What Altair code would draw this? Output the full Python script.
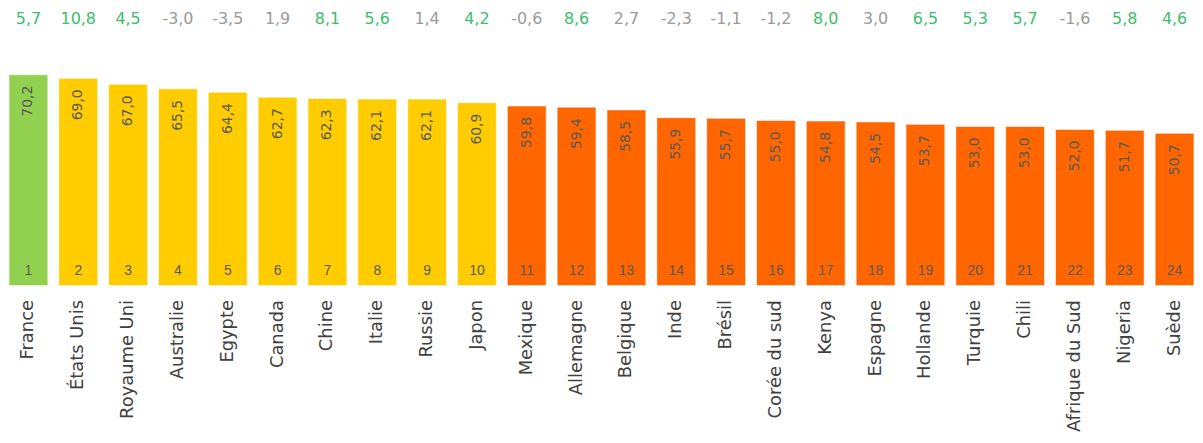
import altair as alt
import pandas as pd

countries = ["France", "États Unis", "Royaume Uni", "Australie", "Egypte", "Canada",
             "Chine", "Italie", "Russie", "Japon", "Mexique", "Allemagne", "Belgique",
             "Inde", "Brésil", "Corée du sud", "Kenya", "Espagne", "Hollande", "Turquie",
             "Chili", "Afrique du Sud", "Nigeria", "Suède"]
scores = [70.2, 69.0, 67.0, 65.5, 64.4, 62.7, 62.3, 62.1, 62.1, 60.9, 59.8, 59.4,
          58.5, 55.9, 55.7, 55.0, 54.8, 54.5, 53.7, 53.0, 53.0, 52.0, 51.7, 50.7]
changes = [5.7, 10.8, 4.5, -3.0, -3.5, 1.9, 8.1, 5.6, 1.4, 4.2, -0.6, 8.6, 2.7,
           -2.3, -1.1, -1.2, 8.0, 3.0, 6.5, 5.3, 5.7, -1.6, 5.8, 4.6]
ranks = list(range(1, 25))

df = pd.DataFrame({"country": countries, "score": scores, "change": changes, "rank": ranks})

FONT = "DejaVu Sans"

base = alt.Chart(df).transform_calculate(
    score_lbl="replace(format(datum.score, '.1f'), '.', ',')",
    change_lbl="replace(replace(format(datum.change, '.1f'), '.', ','), '\u2212', '-')",
    tier="datum.rank == 1 ? 'top' : (datum.rank <= 10 ? 'mid' : 'low')",
).encode(
    x=alt.X("country:N", sort=None,
            scale=alt.Scale(paddingInner=0.22, paddingOuter=0.0),
            axis=alt.Axis(title=None, domain=False, ticks=False, labelAngle=-90,
                          labelPadding=14, labelFontSize=18, labelColor="#404040",
                          labelFont=FONT, labelLimit=300)),
)

y_enc = alt.Y("score:Q", scale=alt.Scale(domain=[0, 92], nice=False), axis=None)

bars = base.mark_bar(stroke="white", strokeWidth=1, strokeOpacity=0.6).encode(
    y=y_enc,
    color=alt.Color("tier:N", legend=None,
                    scale=alt.Scale(domain=["top", "mid", "low"],
                                    range=["#92d050", "#ffcc00", "#ff6600"])),
)

val_text = base.mark_text(angle=270, align="right", baseline="middle", dx=-11,
                          font=FONT, fontSize=14, color="#595959").encode(
    y=y_enc, text="score_lbl:N")

rank_text = base.mark_text(baseline="alphabetic", dy=-11, font="Liberation Sans",
                           fontSize=14, color="#595959").encode(
    y=alt.datum(0, scale=alt.Scale(domain=[0, 92], nice=False)),
    text="rank:N")

change_text = base.mark_text(baseline="middle", font=FONT, fontSize=16).encode(
    y=alt.value(10),
    text="change_lbl:N",
    color=alt.condition("datum.change > 3.5", alt.value("#3dbe6a"), alt.value("#9a9a9a")),
)

chart = alt.layer(bars, val_text, rank_text, change_text).properties(
    width=1192, height=278, padding={"left": 0, "top": 0, "right": 0, "bottom": 0}
).configure_view(stroke=None)

chart.save("out.html", embed_options={"renderer": "svg", "actions": False})
